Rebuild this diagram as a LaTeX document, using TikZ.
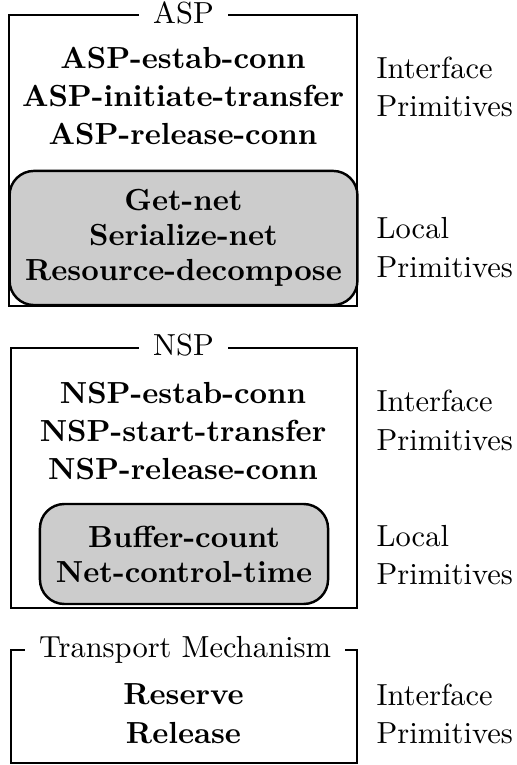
\documentclass[tikz,border=0pt]{standalone}
\begin{document}
\begin{tikzpicture}[x=0.328pt,y=-0.328pt,
    frame/.style={draw,line width=0.8pt},
    localbox/.style={draw,line width=0.8pt,fill=black!20,rounded corners=8pt},
    title/.style={fill=white,anchor=base,inner xsep=4.5pt,inner ysep=1pt},
    prims/.style={font=\bfseries,align=center},
    side/.style={anchor=west,inner sep=0pt,align=left}]

      \useasboundingbox (0,0) rectangle (517,765);

      \begin{scope}[every node/.style={localbox,prims}]
        \node (asplocal) at (183.5,238) [minimum width=114.1pt,minimum height=44pt]
          {Get-net\\[-0.5pt]Serialize-net\\[-0.5pt]Resource-decompose};
        \node (nsplocal) at (184,554) [minimum width=94.5pt,minimum height=32.8pt]
          {Buffer-count\\[-0.5pt]Net-control-time};
      \end{scope}

      \begin{scope}[every node/.style={frame}]
        \node (asp) at (183,160.5) [minimum width=114.1pt,minimum height=95.4pt] {};
        \node (nsp) at (184,478)   [minimum width=113.5pt,minimum height=85.3pt] {};
        \node (tm)  at (184,706.5) [minimum width=113.5pt,minimum height=37.1pt] {};
      \end{scope}

      \begin{scope}[every node/.style={title}]
        \node (asptitle) at (183.5,23.3) {ASP};
        \node (nsptitle) at (183.5,356)  {NSP};
        \node (tmtitle)  at (185,657)    {Transport Mechanism};
      \end{scope}

      \begin{scope}[every node/.style={prims}]
        \node (aspprims) at (183,96)
          {ASP-estab-conn\\[0.55pt]ASP-initiate-transfer\\[0.55pt]ASP-release-conn};
        \node (nspprims) at (183,431)
          {NSP-estab-conn\\[0.55pt]NSP-start-transfer\\[0.55pt]NSP-release-conn};
        \node (tmprims) at (183.5,713.7) {Reserve\\[0.55pt]Release};
      \end{scope}

      \begin{scope}[every node/.style={side}]
        \node (aspif)  at (376,87)    {Interface\\[0.55pt]Primitives};
        \node (asploc) at (376,247.5) {Local\\[0.55pt]Primitives};
        \node (nspif)  at (376,420.3) {Interface\\[0.55pt]Primitives};
        \node (nsploc) at (376,555.3) {Local\\[0.55pt]Primitives};
        \node (tmif)   at (376,713.7) {Interface\\[0.55pt]Primitives};
      \end{scope}

    \end{tikzpicture}
\end{document}
